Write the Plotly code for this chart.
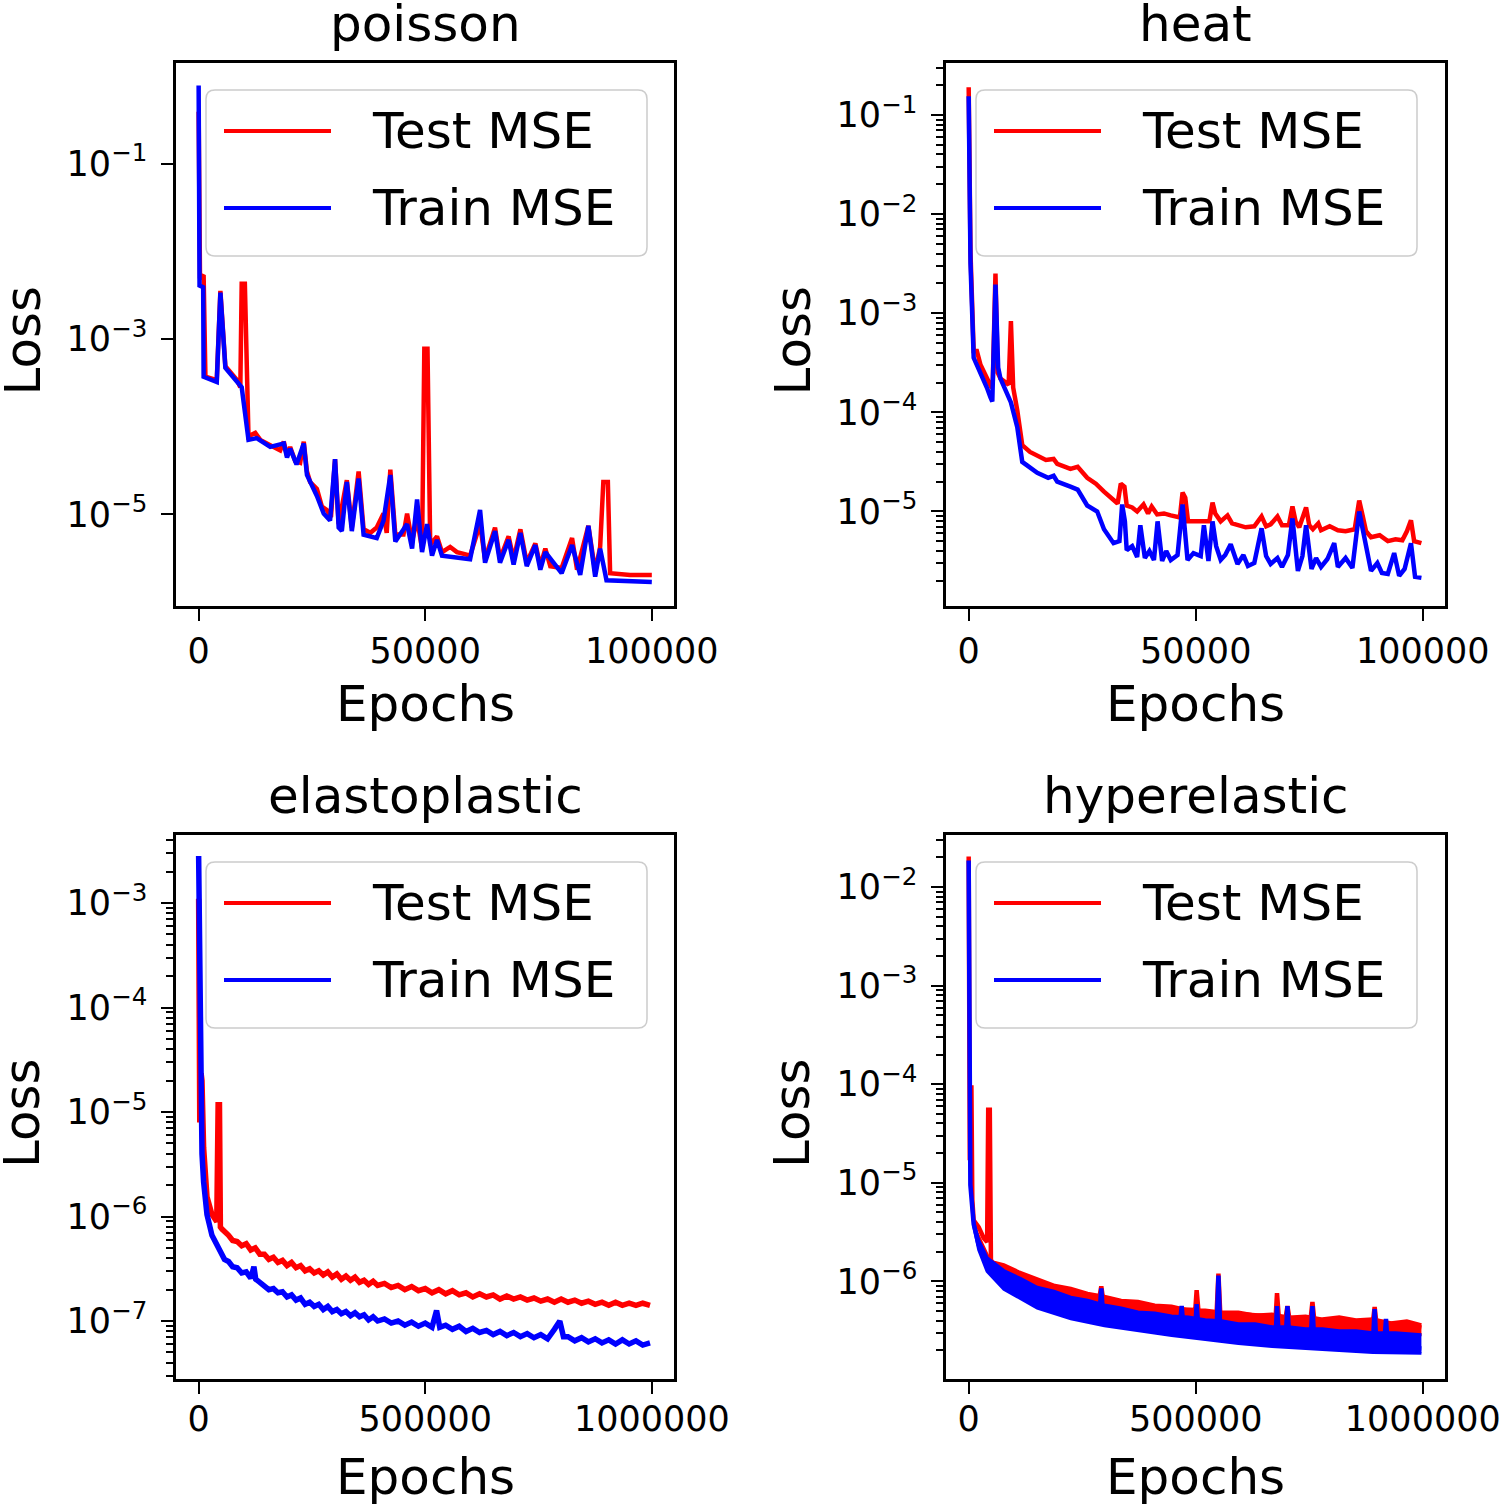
import math
import plotly.graph_objects as go

W, H = 1500, 1505
FONT = "DejaVu Sans"
RED = "#ff0000"
BLUE = "#0000ff"

# ---------------- data: (epoch, log10 MSE) ----------------
poisson_test = [(0, -0.41), (300, -2.31), (1100, -2.27), (1500, -3.43), (4000, -3.47), (4800, -2.45),
                (5900, -3.31), (8500, -3.47), (9200, -3.55), (9500, -2.37), (10200, -2.37), (11000, -4.11),
                (12500, -4.07), (13600, -4.15), (15800, -4.21), (18000, -4.27), (18800, -4.17), (19500, -4.33),
                (20200, -4.23), (21300, -4.39), (22400, -4.41), (23200, -4.17), (23900, -4.51), (24600, -4.63),
                (26100, -4.71), (27200, -4.91), (28300, -4.95), (29200, -5.03), (30100, -4.37), (30900, -5.11),
                (32700, -4.61), (33800, -5.15), (35300, -4.51), (36400, -5.17), (37900, -5.21), (39300, -5.15),
                (40800, -4.99), (41500, -5.21), (42300, -4.49), (43400, -5.23), (45200, -5.23), (46000, -4.99),
                (47100, -5.31), (48200, -5.05), (49300, -5.39), (49800, -3.11), (50500, -3.11), (51100, -5.35),
                (52600, -5.25), (53700, -5.43), (55500, -5.37), (57000, -5.43), (58500, -5.45), (59900, -5.47),
                (62100, -5.11), (63200, -5.51), (65400, -5.15), (66500, -5.51), (68400, -5.25), (69500, -5.51),
                (71000, -5.17), (72400, -5.55), (74300, -5.33), (75400, -5.59), (76500, -5.39), (77600, -5.59),
                (80100, -5.61), (82400, -5.27), (83500, -5.63), (86000, -5.13), (87500, -5.65), (88600, -5.37),
                (89300, -4.63), (90300, -4.63), (90800, -5.67), (95200, -5.69), (100000, -5.69)]
poisson_train = [(0, -0.11), (200, -2.39), (1000, -2.41), (1100, -3.43), (4000, -3.49), (4800, -2.47),
                 (5900, -3.33), (8800, -3.51), (9500, -3.55), (11000, -4.15), (12800, -4.13), (15800, -4.23),
                 (18800, -4.19), (19500, -4.35), (20200, -4.25), (21600, -4.43), (23200, -4.19), (23900, -4.55),
                 (26100, -4.79), (27600, -4.99), (29000, -5.07), (30100, -4.37), (30900, -5.15), (31600, -5.19),
                 (32700, -4.63), (33800, -5.19), (35300, -4.59), (36400, -5.23), (39300, -5.27), (40800, -5.07),
                 (42300, -4.55), (43400, -5.31), (46000, -5.11), (47100, -5.39), (48200, -4.83), (49300, -5.43),
                 (50400, -5.11), (51500, -5.47), (52600, -5.29), (53700, -5.47), (57000, -5.49), (59900, -5.51),
                 (62100, -4.95), (63200, -5.55), (65400, -5.19), (66500, -5.55), (68400, -5.29), (69500, -5.57),
                 (71000, -5.21), (72400, -5.59), (74300, -5.35), (75400, -5.63), (76500, -5.43), (80100, -5.67),
                 (82400, -5.35), (84200, -5.69), (86000, -5.13), (87500, -5.71), (88600, -5.39), (90000, -5.75),
                 (100000, -5.77)]

heat_test = [(0, -0.72), (400, -2.39), (1100, -3.38), (1800, -3.38), (2600, -3.52), (4000, -3.66), (4800, -3.73),
             (5300, -3.70), (5900, -2.60), (6400, -3.60), (7000, -3.66), (8200, -3.70), (8800, -3.72),
             (9300, -3.08), (9800, -3.75), (10700, -3.98), (11800, -4.33), (13500, -4.40), (15100, -4.44),
             (17000, -4.48), (18700, -4.47), (19500, -4.52), (22400, -4.57), (24000, -4.55), (26100, -4.66),
             (28000, -4.72), (29800, -4.80), (31500, -4.86), (32800, -4.92), (33500, -4.72), (34300, -4.75),
             (34800, -4.94), (36000, -4.96), (37100, -5.00), (38500, -4.93), (39500, -5.02), (40300, -4.95),
             (41500, -5.03), (43000, -5.02), (44500, -5.04), (46500, -5.06), (47100, -4.81), (47700, -4.86),
             (48300, -5.10), (50000, -5.10), (51800, -5.09), (53000, -5.10), (53700, -4.91), (54300, -5.02),
             (55500, -5.10), (57000, -5.04), (58000, -5.12), (59200, -5.14), (61000, -5.16), (62900, -5.15),
             (64500, -5.05), (65500, -5.15), (66500, -5.13), (68000, -5.05), (69000, -5.14), (70500, -5.14),
             (71300, -4.95), (72000, -5.10), (72800, -5.16), (74300, -4.96), (75000, -5.14), (75800, -5.18),
             (77000, -5.12), (77600, -5.19), (79500, -5.15), (81300, -5.19), (83000, -5.20), (85000, -5.18),
             (86000, -4.89), (86800, -5.05), (87500, -5.20), (88600, -5.26), (90500, -5.24), (92300, -5.30),
             (94000, -5.28), (95500, -5.29), (96500, -5.20), (97400, -5.09), (98100, -5.30), (99700, -5.32)]
heat_train = [(0, -0.81), (400, -2.50), (1100, -3.45), (2600, -3.60), (4000, -3.75), (4800, -3.85), (5200, -3.89),
              (5900, -2.71), (6500, -3.55), (7000, -3.66), (7700, -3.73), (9300, -3.90), (10700, -4.15),
              (11800, -4.50), (15100, -4.61), (17500, -4.66), (18700, -4.64), (19500, -4.70), (22400, -4.75),
              (24000, -4.78), (26100, -4.94), (28300, -5.00), (29800, -5.18), (31900, -5.32), (33200, -5.30),
              (33800, -4.93), (34400, -5.10), (34800, -5.39), (36000, -5.35), (37100, -5.46), (37800, -5.14),
              (38800, -5.47), (39800, -5.40), (40800, -5.49), (41600, -5.10), (42600, -5.50), (43500, -5.40),
              (44500, -5.49), (46000, -5.44), (47100, -4.93), (48200, -5.49), (49500, -5.42), (51100, -5.45),
              (51800, -5.14), (52800, -5.50), (53700, -5.10), (54500, -5.35), (55500, -5.49), (56500, -5.44),
              (57700, -5.33), (59200, -5.53), (60500, -5.44), (61500, -5.55), (62900, -5.52), (64500, -5.17),
              (65500, -5.45), (66500, -5.53), (68000, -5.47), (69000, -5.56), (70300, -5.44), (71300, -5.07),
              (72500, -5.60), (73500, -5.45), (74300, -5.14), (75500, -5.58), (76500, -5.47), (77600, -5.56),
              (79000, -5.48), (80500, -5.32), (81300, -5.56), (83000, -5.47), (84500, -5.57), (86000, -5.00),
              (87500, -5.32), (88600, -5.60), (90000, -5.52), (91000, -5.62), (92300, -5.63), (93700, -5.42),
              (94800, -5.65), (96000, -5.58), (97400, -5.32), (98300, -5.66), (99700, -5.67)]

elasto_test = [(0, -2.96), (2500, -5.10), (5500, -4.63), (7400, -4.70), (11000, -5.34), (18400, -5.81),
               (29400, -5.98), (40000, -6.05), (43000, -4.93), (46000, -4.93), (48000, -6.10), (51500, -6.12),
               (66000, -6.18), (75000, -6.23), (85000, -6.24), (95000, -6.28), (105000, -6.26), (115000, -6.32),
               (125000, -6.30), (135000, -6.36), (145000, -6.36), (155000, -6.41), (165000, -6.39), (175000, -6.44),
               (185000, -6.42), (195000, -6.47), (205000, -6.44), (215000, -6.49), (225000, -6.47), (235000, -6.52),
               (245000, -6.50), (255000, -6.54), (265000, -6.52), (275000, -6.56), (285000, -6.53), (295000, -6.58),
               (305000, -6.55), (315000, -6.60), (325000, -6.57), (335000, -6.61), (345000, -6.58), (355000, -6.63),
               (365000, -6.61), (375000, -6.65), (385000, -6.62), (395000, -6.66), (410000, -6.64), (425000, -6.68),
               (440000, -6.66), (455000, -6.70), (470000, -6.67), (485000, -6.71), (500000, -6.69), (515000, -6.73),
               (530000, -6.70), (545000, -6.74), (560000, -6.71), (575000, -6.75), (590000, -6.73), (605000, -6.77),
               (620000, -6.74), (635000, -6.77), (650000, -6.75), (665000, -6.79), (680000, -6.76), (695000, -6.79),
               (710000, -6.77), (725000, -6.80), (740000, -6.78), (755000, -6.81), (770000, -6.79), (785000, -6.82),
               (800000, -6.79), (815000, -6.82), (830000, -6.80), (845000, -6.83), (860000, -6.81), (875000, -6.84),
               (890000, -6.82), (905000, -6.85), (920000, -6.82), (935000, -6.85), (950000, -6.83), (965000, -6.85),
               (980000, -6.83), (996000, -6.85)]
elasto_train = [(0, -2.55), (3700, -4.93), (7400, -5.40), (11000, -5.67), (18400, -5.98), (29400, -6.18),
                (47800, -6.35), (57000, -6.41), (66000, -6.43), (75000, -6.48), (85000, -6.49), (95000, -6.54),
                (105000, -6.53), (115000, -6.59), (122000, -6.48), (126000, -6.60), (135000, -6.63), (145000, -6.66),
                (155000, -6.70), (165000, -6.69), (175000, -6.73), (185000, -6.72), (195000, -6.77), (205000, -6.75),
                (215000, -6.80), (225000, -6.78), (235000, -6.84), (245000, -6.82), (255000, -6.86), (265000, -6.84),
                (275000, -6.89), (285000, -6.86), (295000, -6.91), (305000, -6.89), (315000, -6.93), (325000, -6.91),
                (335000, -6.95), (345000, -6.92), (355000, -6.96), (365000, -6.94), (375000, -6.99), (385000, -6.96),
                (395000, -7.00), (410000, -6.98), (425000, -7.02), (440000, -7.00), (455000, -7.04), (470000, -7.01),
                (485000, -7.05), (500000, -7.02), (515000, -7.06), (525000, -6.90), (532000, -7.06), (545000, -7.04),
                (560000, -7.08), (575000, -7.05), (590000, -7.10), (605000, -7.07), (620000, -7.11), (635000, -7.09),
                (650000, -7.13), (665000, -7.10), (680000, -7.14), (695000, -7.11), (710000, -7.15), (725000, -7.12),
                (740000, -7.16), (755000, -7.13), (770000, -7.17), (785000, -7.08), (797000, -7.00), (805000, -7.15),
                (815000, -7.15), (830000, -7.19), (845000, -7.16), (860000, -7.20), (875000, -7.17), (890000, -7.21),
                (905000, -7.18), (920000, -7.22), (935000, -7.18), (950000, -7.22), (965000, -7.19), (980000, -7.23),
                (996000, -7.21)]

hyper_test = [(0, -1.69), (2500, -4.77), (6000, -4.01), (8000, -5.17), (11000, -5.38), (22000, -5.45),
              (33000, -5.56), (40600, -5.60), (43000, -4.26), (46500, -4.26), (49000, -5.78), (51700, -5.81),
              (77500, -5.86), (114500, -5.95), (151000, -6.01), (188000, -6.06), (225000, -6.11), (262000, -6.14),
              (288000, -6.16), (292000, -6.05), (296000, -6.18), (336000, -6.21), (373000, -6.24), (410000, -6.26),
              (447000, -6.28), (499000, -6.29), (502000, -6.09), (506000, -6.30), (521000, -6.31), (546000, -6.32),
              (550000, -5.92), (554000, -6.32), (594000, -6.33), (631000, -6.34), (668000, -6.35), (676000, -6.36),
              (679000, -6.12), (683000, -6.37), (698000, -6.37), (702000, -6.25), (706000, -6.37), (742000, -6.38),
              (753000, -6.38), (757000, -6.21), (761000, -6.39), (816000, -6.40), (853000, -6.41), (890000, -6.42),
              (894000, -6.26), (898000, -6.43), (935000, -6.43), (964000, -6.44), (997000, -6.47)]
hyper_test_upper = [(51700, -5.80), (77500, -5.83), (110000, -5.90), (151000, -5.97), (190000, -6.04),
                    (225000, -6.07), (262000, -6.12), (299000, -6.15), (336000, -6.19), (373000, -6.20),
                    (410000, -6.24), (447000, -6.25), (484000, -6.29), (521000, -6.29), (557000, -6.31),
                    (594000, -6.31), (631000, -6.34), (668000, -6.33), (705000, -6.36), (742000, -6.35),
                    (779000, -6.38), (816000, -6.36), (853000, -6.39), (890000, -6.38), (930000, -6.42),
                    (965000, -6.40), (997000, -6.44)]
hyper_train = [(0, -1.73), (1500, -3.58), (2500, -4.77), (3700, -5.02), (11000, -5.42), (22000, -5.63),
               (40600, -5.85), (59000, -5.95), (77500, -6.00), (114500, -6.10), (151000, -6.17), (188000, -6.22),
               (225000, -6.26), (262000, -6.30), (288000, -6.33), (292000, -6.07), (296000, -6.34), (336000, -6.37),
               (373000, -6.40), (410000, -6.42), (447000, -6.44), (465000, -6.45), (469000, -6.25), (473000, -6.46),
               (499000, -6.47), (502000, -6.23), (506000, -6.48), (546000, -6.49), (550000, -5.94), (554000, -6.50),
               (594000, -6.51), (668000, -6.55), (676000, -6.56), (679000, -6.25), (683000, -6.56), (698000, -6.57),
               (702000, -6.25), (706000, -6.58), (742000, -6.59), (753000, -6.60), (757000, -6.25), (761000, -6.60),
               (816000, -6.62), (890000, -6.64), (894000, -6.28), (898000, -6.65), (915000, -6.65), (919000, -6.38),
               (923000, -6.66), (964000, -6.67), (997000, -6.68)]
hyper_train_upper = [(11000, -5.40), (22000, -5.58), (40600, -5.76), (77500, -5.89), (114000, -5.97),
                     (151000, -6.06), (188000, -6.10), (225000, -6.16), (262000, -6.19), (299000, -6.24),
                     (336000, -6.27), (373000, -6.31), (410000, -6.32), (447000, -6.35), (484000, -6.36),
                     (521000, -6.39), (557000, -6.40), (594000, -6.43), (631000, -6.43), (668000, -6.46),
                     (705000, -6.46), (742000, -6.48), (779000, -6.48), (816000, -6.50), (853000, -6.50),
                     (890000, -6.52), (940000, -6.52), (997000, -6.54)]
hyper_train_lower = [(11000, -5.44), (22000, -5.68), (40600, -5.90), (77500, -6.08), (151000, -6.27),
                     (225000, -6.38), (299000, -6.45), (373000, -6.50), (447000, -6.55), (521000, -6.59),
                     (594000, -6.63), (668000, -6.66), (742000, -6.68), (816000, -6.70), (890000, -6.72),
                     (997000, -6.73)]

titles = ["poisson", "heat", "elastoplastic", "hyperelastic"]
legend_labels = ["Test MSE", "Train MSE"]

# ---------------- layout geometry (pixels) ----------------
panels = [
    dict(x=(176, 674), y=(63, 606), xr=[-4995, 104895], xt=[0, 50000, 100000],
         yr=[-6.044, 0.147], ymaj=[-1, -3, -5], minor=False, xstand=0),
    dict(x=(946, 1445), y=(63, 606), xr=[-4995, 104895], xt=[0, 50000, 100000],
         yr=[-5.954, -0.475], ymaj=[-1, -2, -3, -4, -5], minor=True, xstand=0),
    dict(x=(176, 674), y=(835, 1379), xr=[-49950, 1048950], xt=[0, 500000, 1000000],
         yr=[-7.555, -2.349], ymaj=[-3, -4, -5, -6, -7], minor=True, xstand=-5),
    dict(x=(946, 1445), y=(835, 1379), xr=[-49950, 1048950], xt=[0, 500000, 1000000],
         yr=[-6.99, -1.472], ymaj=[-2, -3, -4, -5, -6], minor=True, xstand=-5),
]


def px(v):
    return v / W


def py(v):
    return 1 - v / H


def xs(series):
    return [p[0] for p in series]


def ys(series):
    return [10 ** p[1] for p in series]


fig = go.Figure()
series = [
    (poisson_test, poisson_train, None, None, None),
    (heat_test, heat_train, None, None, None),
    (elasto_test, elasto_train, None, None, None),
    (hyper_test, hyper_train, hyper_test_upper, hyper_train_upper, hyper_train_lower),
]
LW = 4.5

for i, (test, train, t_up, tr_up, tr_lo) in enumerate(series):
    sfx = "" if i == 0 else str(i + 1)
    xa, ya = "x" + sfx, "y" + sfx
    lw = LW + (1.0 if i == 2 else 0.0)
    if t_up is not None:
        fig.add_trace(go.Scatter(x=xs(t_up), y=ys(t_up), xaxis=xa, yaxis=ya, mode="lines",
                                 line=dict(color=RED, width=3), showlegend=False, hoverinfo="skip"))
        fig.add_trace(go.Scatter(x=xs(tr_up), y=ys(tr_up), xaxis=xa, yaxis=ya, mode="lines",
                                 line=dict(color=RED, width=3), fill="tonexty", fillcolor=RED,
                                 showlegend=False, hoverinfo="skip"))
    fig.add_trace(go.Scatter(x=xs(test), y=ys(test), xaxis=xa, yaxis=ya, mode="lines",
                             name=legend_labels[0], line=dict(color=RED, width=lw), showlegend=False))
    if tr_up is not None:
        fig.add_trace(go.Scatter(x=xs(tr_up), y=ys(tr_up), xaxis=xa, yaxis=ya, mode="lines",
                                 line=dict(color=BLUE, width=3), showlegend=False, hoverinfo="skip"))
        fig.add_trace(go.Scatter(x=xs(tr_lo), y=ys(tr_lo), xaxis=xa, yaxis=ya, mode="lines",
                                 line=dict(color=BLUE, width=3), fill="tonexty", fillcolor=BLUE,
                                 showlegend=False, hoverinfo="skip"))
    fig.add_trace(go.Scatter(x=xs(train), y=ys(train), xaxis=xa, yaxis=ya, mode="lines",
                             name=legend_labels[1], line=dict(color=BLUE, width=lw), showlegend=False))

layout = dict(width=W, height=H, margin=dict(l=0, r=0, t=0, b=0, autoexpand=False),
              paper_bgcolor="white", plot_bgcolor="white", showlegend=False,
              font=dict(family=FONT, color="black"))
shapes, annotations = [], []
TXT = 50

for i, p in enumerate(panels):
    sfx = "" if i == 0 else str(i + 1)
    minor_vals = []
    if p["minor"]:
        for e in range(-9, 1):
            for m in range(2, 10):
                v = m * 10.0 ** e
                if p["yr"][0] < math.log10(v) < p["yr"][1]:
                    minor_vals.append(v)
    layout["xaxis" + sfx] = dict(
        domain=[px(p["x"][0]), px(p["x"][1])], anchor="y" + sfx, range=p["xr"], automargin=False,
        tickmode="array", tickvals=p["xt"], ticktext=[str(t) for t in p["xt"]],
        ticks="outside", ticklen=12, tickwidth=2, tickcolor="black",
        showline=True, mirror=True, linecolor="black", linewidth=2.5,
        showgrid=False, zeroline=False, ticklabelstandoff=p["xstand"], ticklabeloverflow="allow",
        tickfont=dict(family=FONT, size=35, color="black"))
    ydict = dict(
        domain=[py(p["y"][1]), py(p["y"][0])], anchor="x" + sfx, type="log", range=p["yr"],
        automargin=False, tickmode="array", tickvals=[10.0 ** e for e in p["ymaj"]],
        ticktext=["10<sup>\u2212%d</sup>" % (-e) for e in p["ymaj"]],
        ticks="outside", ticklen=12, tickwidth=2, tickcolor="black",
        showline=True, mirror=True, linecolor="black", linewidth=2.5,
        showgrid=False, zeroline=False, ticklabelstandoff=7, ticklabeloverflow="allow",
        tickfont=dict(family=FONT, size=35, color="black"))
    if minor_vals:
        ydict["minor"] = dict(tickmode="array", tickvals=minor_vals, ticks="outside",
                              ticklen=7, tickwidth=1.5, tickcolor="black", showgrid=False)
    layout["yaxis" + sfx] = ydict

    cx = (p["x"][0] + p["x"][1]) / 2
    cy = (p["y"][0] + p["y"][1]) / 2
    top, bottom = p["y"]
    annotations.append(dict(text=titles[i], x=px(cx), y=py(top - 39), xref="paper", yref="paper",
                            xanchor="center", yanchor="middle", showarrow=False,
                            font=dict(family=FONT, size=TXT, color="black")))
    annotations.append(dict(text="Epochs", x=px(cx), y=py(bottom + 98), xref="paper", yref="paper",
                            xanchor="center", yanchor="middle", showarrow=False,
                            font=dict(family=FONT, size=TXT, color="black")))
    annotations.append(dict(text="Loss", x=px(p["x"][0] - 154), y=py(cy + 6), xref="paper", yref="paper",
                            xanchor="center", yanchor="middle", showarrow=False, textangle=-90,
                            font=dict(family=FONT, size=TXT, color="black")))

    # legend (box, sample lines, labels)
    bl = p["x"][0] + 30
    bt = top + 27
    br, bb = bl + 441, bt + 166
    r = 9
    x0, x1, y0, y1 = px(bl), px(br), py(bb), py(bt)
    rx, ry = r / W, r / H
    path = (f"M {x0 + rx},{y1} L {x1 - rx},{y1} Q {x1},{y1} {x1},{y1 - ry} L {x1},{y0 + ry} "
            f"Q {x1},{y0} {x1 - rx},{y0} L {x0 + rx},{y0} Q {x0},{y0} {x0},{y0 + ry} "
            f"L {x0},{y1 - ry} Q {x0},{y1} {x0 + rx},{y1} Z")
    shapes.append(dict(type="path", path=path, xref="paper", yref="paper",
                       fillcolor="rgba(255,255,255,0.8)", line=dict(color="#cccccc", width=1.5),
                       layer="above"))
    for k, (col, lab) in enumerate(zip([RED, BLUE], legend_labels)):
        ly = bt + 41 + 77 * k
        shapes.append(dict(type="line", xref="paper", yref="paper", x0=px(bl + 18), x1=px(bl + 125),
                           y0=py(ly), y1=py(ly), line=dict(color=col, width=4), layer="above"))
        annotations.append(dict(text=lab, x=px(bl + 164), y=py(ly), xref="paper", yref="paper",
                                xanchor="left", yanchor="middle", showarrow=False,
                                font=dict(family=FONT, size=TXT, color="black")))

layout["shapes"] = shapes
layout["annotations"] = annotations
fig.update_layout(**layout)
fig.write_html("out.html", config={"displayModeBar": False},
               post_script="document.body.style.margin='0px';document.body.style.overflow='hidden';")
